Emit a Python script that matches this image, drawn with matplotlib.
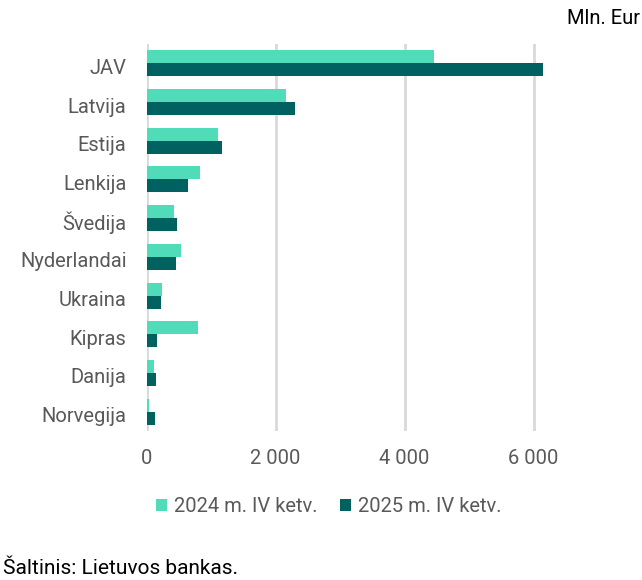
import matplotlib
matplotlib.use("Agg")
import numpy as np
import matplotlib.pyplot as plt
import matplotlib.transforms as mtransforms

plt.rcParams['font.family'] = ['Roboto', 'DejaVu Sans']

countries = ["JAV", "Latvija", "Estija", "Lenkija", "Švedija",
             "Nyderlandai", "Ukraina", "Kipras", "Danija", "Norvegija"]
q4_2024 = [4455, 2160, 1105, 826, 423, 532, 237, 795, 113, 36]
q4_2025 = [6140, 2300, 1167, 640, 470, 454, 222, 160, 144, 129]
series_names = ["2024 m. IV ketv.", "2025 m. IV ketv."]
xticks = [0, 2000, 4000, 6000]
xtick_labels = ["0", "2 000", "4 000", "6 000"]

light = "#50dcb9"
dark = "#006260"
grey = "#595959"
fs = 14.5

fig = plt.figure(figsize=(6.42, 5.80), dpi=100)
ax = fig.add_axes([146.7 / 642, 1 - 431 / 580, (598 - 146.7) / 642, (431 - 44) / 580])

y = np.arange(len(countries))
h = 0.336
ax.barh(y - h / 2, q4_2024, height=h, color=light, label=series_names[0], zorder=3)
ax.barh(y + h / 2, q4_2025, height=h, color=dark, label=series_names[1], zorder=3)

ax.set_ylim(len(countries) - 0.5, -0.5)
ax.set_xlim(0, 7000)
ax.set_yticks(y)
ax.set_yticklabels(countries, fontsize=fs, color=grey)
ax.set_xticks(xticks)
ax.set_xticklabels(xtick_labels, fontsize=fs, color=grey)
ax.tick_params(length=0)
ax.tick_params(axis='y', pad=14.5)
ax.tick_params(axis='x', pad=13)
ax.grid(axis='x', color="#d9d9d9", linewidth=2, zorder=0)
for s in ax.spines.values():
    s.set_visible(False)

# excel puts the category labels a little below the bar centre
shift = mtransforms.ScaledTranslation(0, -3 / 100, fig.dpi_scale_trans)
for lbl in ax.get_yticklabels():
    lbl.set_transform(lbl.get_transform() + shift)

fig.legend(loc="center", bbox_to_anchor=(329 / 642, 1 - 507 / 580), ncol=2,
           frameon=False, fontsize=fs, labelcolor=grey,
           handlelength=0.55, handleheight=0.55, handletextpad=0.35, columnspacing=1.1)

fig.text(640 / 642, 1 - 18 / 580, "Mln. Eur", ha="right", va="center", fontsize=14.5, color="#000000")
fig.text(3 / 642, 1 - 568 / 580, "Šaltinis: Lietuvos bankas.", ha="left", va="center", fontsize=15, color="#000000")

fig.savefig("out.png", dpi=100)
